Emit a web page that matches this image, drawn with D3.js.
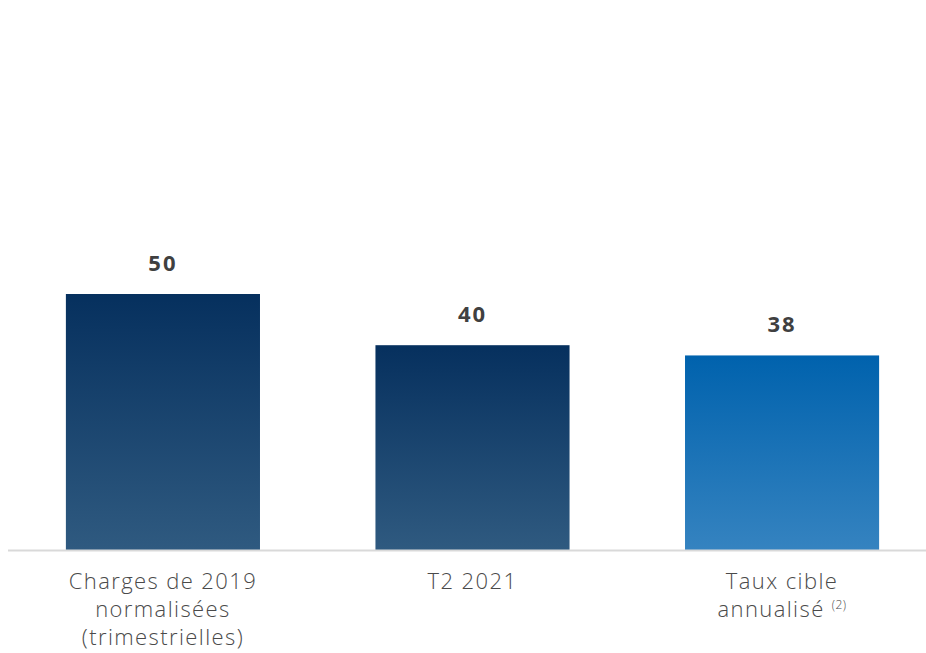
<!DOCTYPE html>
<html>
<head>
<meta charset="utf-8">
<script src="https://cdn.jsdelivr.net/npm/d3@7"></script>
<style>
  body { margin: 0; background: #fff; }
  svg { display: block; }
</style>
</head>
<body>
<svg id="svg" width="926" height="653"></svg>
<script>
const categories = ['Charges de 2019|normalisées|(trimestrielles)', 'T2 2021', 'Taux cible|annualisé']
const values = [50, 40, 38]
const notes = ['', '', '(2)']

const width = 926
const baseline = 550

const svg = d3.select('#svg')

// gradients for the bars
const defs = svg.append('defs')
const gradients = [
  { id: 'gDark', top: '#06305e', bottom: '#2f5a80' },
  { id: 'gBlue', top: '#0062ad', bottom: '#3583c0' }
]
gradients.forEach(g => {
  const lg = defs.append('linearGradient')
    .attr('id', g.id)
    .attr('x1', 0).attr('y1', 0).attr('x2', 0).attr('y2', 1)
  lg.append('stop').attr('offset', '0%').attr('stop-color', g.top)
  lg.append('stop').attr('offset', '100%').attr('stop-color', g.bottom)
})
const fills = ['url(#gDark)', 'url(#gDark)', 'url(#gBlue)']

// x scale
const xscale = d3.scaleBand()
  .domain(categories)
  .range([8, 937])
  .paddingInner(0.373)
  .paddingOuter(0.187)

// y scale
const yscale = d3.scaleLinear()
  .domain([0, 50])
  .range([baseline, 294])

// bars
svg.append('g')
  .selectAll('rect')
  .data(values)
  .enter()
  .append('rect')
  .attr('x', (d, i) => xscale(categories[i]))
  .attr('y', d => yscale(d))
  .attr('width', xscale.bandwidth())
  .attr('height', d => baseline - yscale(d))
  .attr('fill', (d, i) => fills[i])

// axis line
svg.append('line')
  .attr('x1', 8).attr('x2', width)
  .attr('y1', baseline + 0.5).attr('y2', baseline + 0.5)
  .attr('stroke', '#d9d9d9')
  .attr('stroke-width', 2)

// value labels
svg.append('g')
  .selectAll('text')
  .data(values)
  .enter()
  .append('text')
  .attr('x', (d, i) => xscale(categories[i]) + xscale.bandwidth() / 2)
  .attr('y', d => yscale(d) - 23)
  .attr('text-anchor', 'middle')
  .attr('font-family', 'Open Sans, sans-serif')
  .attr('font-weight', 700)
  .attr('font-size', 22)
  .attr('letter-spacing', 2)
  .attr('fill', '#404040')
  .text(d => d)

// category labels
const catG = svg.append('g')
categories.forEach((c, i) => {
  const t = catG.append('text')
    .attr('x', xscale(c) + xscale.bandwidth() / 2)
    .attr('y', 589)
    .attr('text-anchor', 'middle')
    .attr('font-family', 'Open Sans, sans-serif')
    .attr('font-weight', 300)
    .attr('font-size', 22)
    .attr('letter-spacing', 1.4)
    .attr('fill', '#4a4a4a')
  const lines = c.split('|')
  lines.forEach((l, j) => {
    const ts = t.append('tspan')
      .attr('x', xscale(c) + xscale.bandwidth() / 2)
      .attr('dy', j === 0 ? 0 : 28)
      .text(l)
    if (j === lines.length - 1 && notes[i]) {
      ts.text(l + '\u00a0')
      t.append('tspan')
        .attr('font-size', 12)
        .attr('letter-spacing', 0.5)
        .attr('dy', -8)
        .text(notes[i])
    }
  })
})
</script>
</body>
</html>
